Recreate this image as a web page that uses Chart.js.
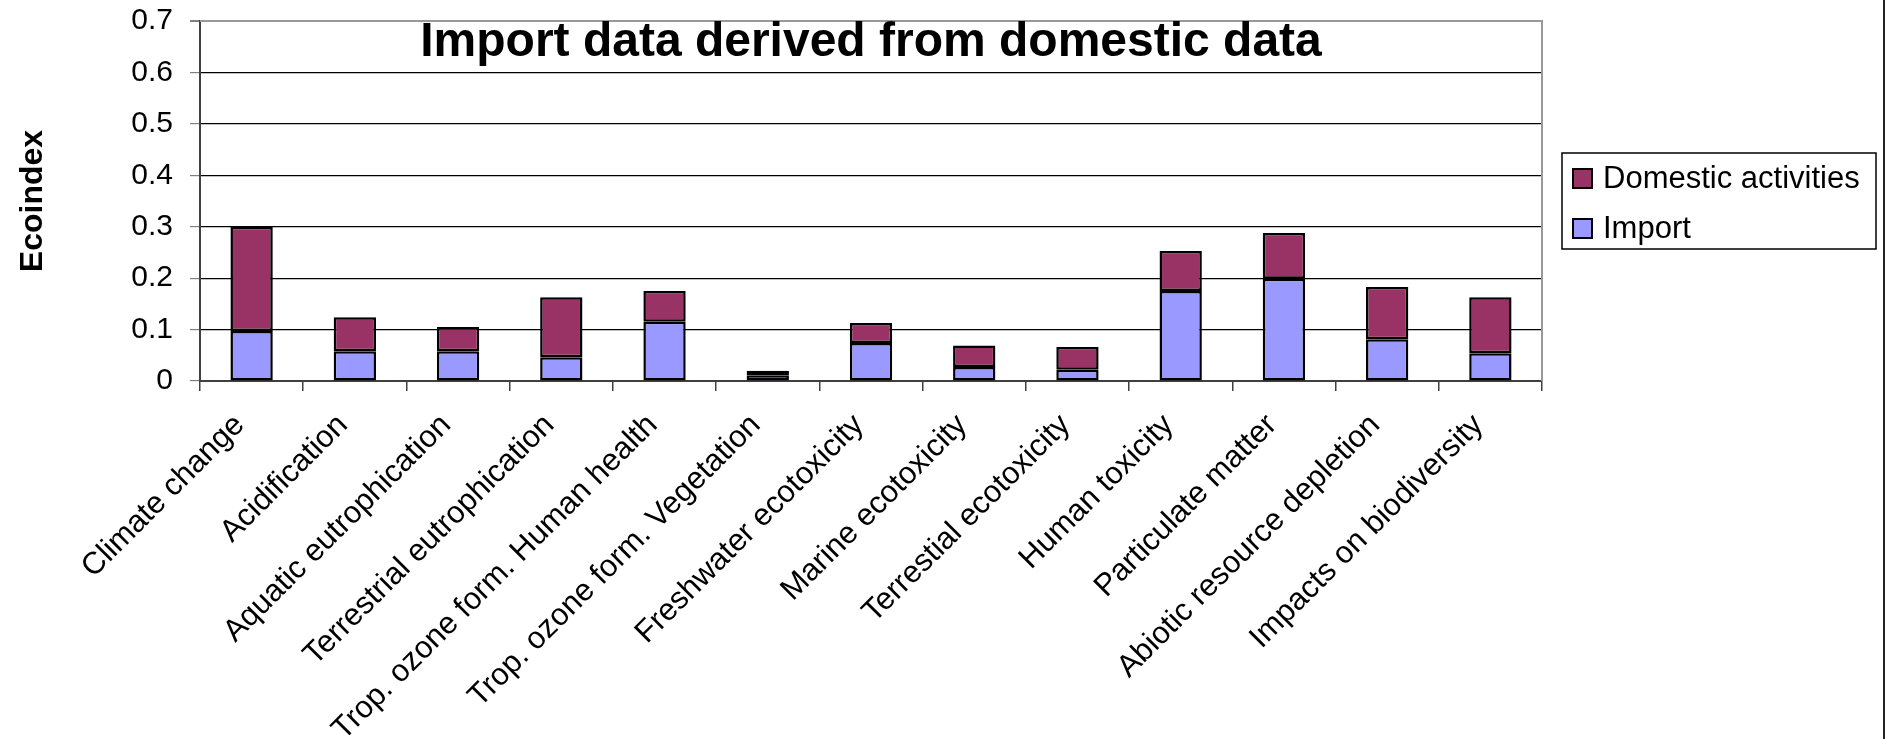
<!DOCTYPE html>
<html>
<head>
<meta charset="utf-8">
<script src="https://cdn.jsdelivr.net/npm/chart.js@4/dist/chart.umd.min.js"></script>
<style>
  html, body { margin: 0; padding: 0; background: #fff; }
  #wrap { width: 1883px; height: 739px; border-right: 2px solid #222; }
</style>
</head>
<body>
<div id="wrap"><canvas id="myChart" width="1883" height="739"></canvas></div>
<script>
var categories = ['Climate change', 'Acidification', 'Aquatic eutrophication', 'Terrestrial eutrophication',
    'Trop. ozone form. Human health', 'Trop. ozone form. Vegetation', 'Freshwater ecotoxicity',
    'Marine ecotoxicity', 'Terrestial ecotoxicity', 'Human toxicity', 'Particulate matter',
    'Abiotic resource depletion', 'Impacts on biodiversity'];
var importVals = [0.097, 0.058, 0.058, 0.046, 0.115, 0.011, 0.074, 0.027, 0.022, 0.175, 0.199, 0.081, 0.054];
var domesticVals = [0.203, 0.066, 0.047, 0.117, 0.060, 0.009, 0.039, 0.042, 0.044, 0.078, 0.089, 0.102, 0.109];
var yTickLabels = ['0', '0.1', '0.2', '0.3', '0.4', '0.5', '0.6', '0.7'];
var chartTitle = 'Import data derived from domestic data';
var yTitle = 'Ecoindex';

Chart.defaults.font.family = '"Liberation Sans", Arial, sans-serif';
Chart.defaults.color = '#000';

// plot frame (grey top/right), title inside the plot, legend box on the right
var framePlugin = {
    id: 'frame',
    beforeDatasetsDraw: function (chart) {
        var a = chart.chartArea, ctx = chart.ctx;
        ctx.save();
        ctx.strokeStyle = '#999';
        ctx.lineWidth = 2;
        ctx.beginPath();
        ctx.moveTo(a.left, a.top);
        ctx.lineTo(a.right, a.top);
        ctx.lineTo(a.right, a.bottom);
        ctx.stroke();
        ctx.restore();
    },
    afterDraw: function (chart) {
        var a = chart.chartArea, ctx = chart.ctx;
        ctx.save();
        ctx.fillStyle = '#000';
        ctx.font = 'bold 48px "Liberation Sans", Arial, sans-serif';
        ctx.textAlign = 'center';
        ctx.textBaseline = 'alphabetic';
        ctx.fillText(chartTitle, (a.left + a.right) / 2, a.top + 35);

        // legend
        var bx = a.right + 20, by = (a.top + a.bottom) / 2 - 48, bw = 314, bh = 96;
        ctx.strokeStyle = '#000';
        ctx.lineWidth = 1.5;
        ctx.strokeRect(bx, by, bw, bh);
        ctx.font = '31px "Liberation Sans", Arial, sans-serif';
        ctx.textAlign = 'left';
        ctx.textBaseline = 'middle';
        var ds = chart.data.datasets.slice().reverse();
        ds.forEach(function (d, i) {
            var cy = by + 25 + i * 50;
            ctx.fillStyle = d.backgroundColor;
            ctx.fillRect(bx + 11, cy - 9, 19, 19);
            ctx.lineWidth = 2;
            ctx.strokeRect(bx + 11, cy - 9, 19, 19);
            ctx.fillStyle = '#000';
            ctx.fillText(d.label, bx + 41, cy + 1);
        });
        ctx.restore();
    }
};

var ctx = document.getElementById('myChart').getContext('2d');
var myChart = new Chart(ctx, {
    type: 'bar',
    data: {
        labels: categories,
        datasets: [{
            label: 'Import',
            data: importVals,
            backgroundColor: '#9999FF',
            borderColor: '#000',
            borderWidth: 2.5,
            borderSkipped: false
        }, {
            label: 'Domestic activities',
            data: domesticVals,
            backgroundColor: '#993366',
            borderColor: '#000',
            borderWidth: 2.5,
            borderSkipped: false
        }]
    },
    options: {
        responsive: false,
        animation: false,
        devicePixelRatio: 1,
        layout: { padding: { top: 21, right: 341, left: 0, bottom: 0 } },
        datasets: { bar: { barPercentage: 0.41, categoryPercentage: 1 } },
        plugins: {
            legend: { display: false },
            tooltip: { enabled: false },
            title: { display: false }
        },
        scales: {
            x: {
                stacked: true,
                afterFit: function (s) { s.height = 358; },
                grid: { display: true, drawOnChartArea: false, offset: true, tickLength: 10, color: '#404040', lineWidth: 1.5 },
                border: { display: true, color: '#404040', width: 2 },
                ticks: { autoSkip: false, minRotation: 45, maxRotation: 45, padding: 16, labelOffset: -12, font: { size: 31 } }
            },
            y: {
                stacked: true,
                min: 0,
                max: 0.7,
                afterFit: function (s) { s.width = 200; s.paddingTop = 0; s.paddingBottom = 0; },
                grid: {
                    color: function (c) { return c.index === 7 ? '#999' : '#000'; },
                    lineWidth: function (c) { return c.index === 7 ? 2 : 1.2; },
                    tickLength: 10,
                    tickColor: '#808080'
                },
                border: { display: true, color: '#404040', width: 2 },
                ticks: {
                    stepSize: 0.1,
                    padding: 17,
                    font: { size: 30 },
                    callback: function (v, i) { return yTickLabels[i]; }
                },
                title: {
                    display: true,
                    text: yTitle,
                    font: { size: 32, weight: 'bold' },
                    padding: { top: 14, bottom: 0 }
                }
            }
        }
    },
    plugins: [framePlugin]
});
</script>
</body>
</html>
